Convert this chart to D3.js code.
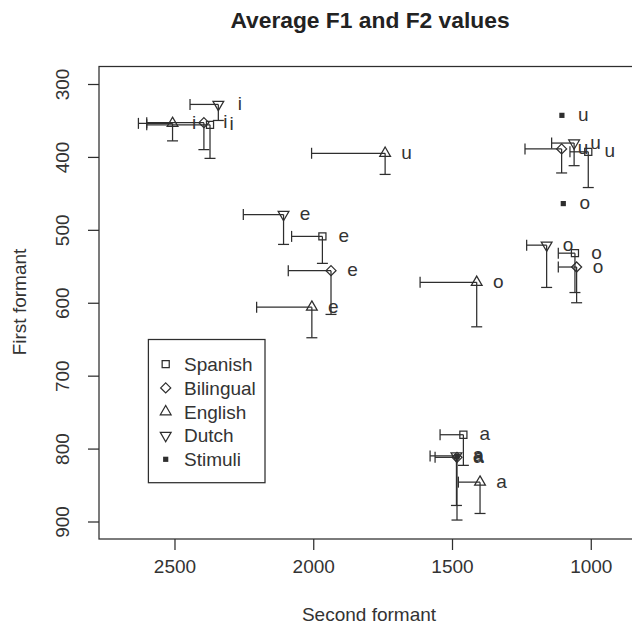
<!DOCTYPE html>
<html>
<head>
<meta charset="utf-8">
<script src="https://cdn.jsdelivr.net/npm/d3@7"></script>
<style>
  html, body { margin: 0; padding: 0; background: #fff; }
  svg { display: block; font-family: "Liberation Sans", Arial, Helvetica, sans-serif; }
</style>
</head>
<body>
<svg id="chart" width="632" height="626"></svg>
<script>
// Vowel order shared by every group
const vowels = ["i", "e", "a", "o", "u"];

// Spanish listeners: mean F2, mean F1, and upper ends of the spread bars (Hz)
const spanishF2   = [2372, 1967, 1459, 1057, 1009];
const spanishF1   = [356, 509, 781, 532, 393];
const spanishF2Hi = [2600, 2078, 1543, 1117, 1075];
const spanishF1Hi = [402, 546, 823, 586, 442];

// Bilingual listeners
const bilingualF2   = [2394, 1936, 1482, 1051, 1105];
const bilingualF1   = [353, 556, 812, 551, 389];
const bilingualF2Hi = [2600, 2090, 1561, 1117, 1237];
const bilingualF1Hi = [390, 616, 898, 600, 422];

// English listeners
const englishF2   = [2507, 2005, 1399, 1411, 1741];
const englishF1   = [354, 606, 846, 572, 395];
const englishF2Hi = [2630, 2204, 1477, 1615, 2006];
const englishF1Hi = [378, 648, 889, 633, 424];

// Dutch listeners
const dutchF2   = [2342, 2107, 1484, 1159, 1060];
const dutchF1   = [328, 479, 810, 521, 381];
const dutchF2Hi = [2444, 2252, 1579, 1231, 1141];
const dutchF1Hi = [350, 520, 878, 579, 412];

// Stimulus vowels
const stimuliVowels = ["a", "o", "u"];
const stimuliF2 = [1482, 1099, 1104];
const stimuliF1 = [811, 464, 343];

// Axis settings
const xLim = [2700, 900];   // reversed: high F2 on the left
const yLim = [900, 300];    // reversed: low F1 at the top
const xTicks = [2500, 2000, 1500, 1000];
const yTicks = [300, 400, 500, 600, 700, 800, 900];

const legendLabels = ["Spanish", "Bilingual", "English", "Dutch", "Stimuli"];
const legendShapes = ["square", "diamond", "triangleUp", "triangleDown", "filled"];

const groups = [
  { name: "Spanish",   shape: "square",       f2: spanishF2,   f1: spanishF1,   f2hi: spanishF2Hi,   f1hi: spanishF1Hi },
  { name: "Bilingual", shape: "diamond",      f2: bilingualF2, f1: bilingualF1, f2hi: bilingualF2Hi, f1hi: bilingualF1Hi },
  { name: "English",   shape: "triangleUp",   f2: englishF2,   f1: englishF1,   f2hi: englishF2Hi,   f1hi: englishF1Hi },
  { name: "Dutch",     shape: "triangleDown", f2: dutchF2,     f1: dutchF1,     f2hi: dutchF2Hi,     f1hi: dutchF1Hi }
];

// ---- layout ----
const plot = { left: 99, top: 66.5, right: 638.5, bottom: 539 };
const ink = "#2e2e2e";
const textInk = "#333";
const lw = 1.25;
const fontSize = 19;

// R-style 4% padding around the limits
function padded(lim) {
  const r = lim[0] - lim[1];
  return [lim[0] + 0.04 * r, lim[1] - 0.04 * r];
}

const x = d3.scaleLinear().domain(padded(xLim)).range([plot.left, plot.right]);
const y = d3.scaleLinear().domain(padded(yLim).reverse()).range([plot.top, plot.bottom]);

const svg = d3.select("#chart");

// symbol radius (R pch geometry)
const R = 4;
function symbolPath(shape, cx, cy) {
  if (shape === "square") {
    const h = R * 0.886;
    return `M${cx - h},${cy - h}H${cx + h}V${cy + h}H${cx - h}Z`;
  }
  if (shape === "diamond") {
    const h = R * 1.2533;
    return `M${cx},${cy - h}L${cx + h},${cy}L${cx},${cy + h}L${cx - h},${cy}Z`;
  }
  if (shape === "triangleUp") {
    const top = R * 1.555, half = R * 1.347, base = R * 0.778;
    return `M${cx},${cy - top}L${cx + half},${cy + base}L${cx - half},${cy + base}Z`;
  }
  if (shape === "triangleDown") {
    const top = R * 1.555, half = R * 1.347, base = R * 0.778;
    return `M${cx},${cy + top}L${cx + half},${cy - base}L${cx - half},${cy - base}Z`;
  }
  // small filled square
  const h = 2.6;
  return `M${cx - h},${cy - h}H${cx + h}V${cy + h}H${cx - h}Z`;
}

function drawSymbol(g, shape, cx, cy) {
  g.append("path")
    .attr("d", symbolPath(shape, cx, cy))
    .attr("fill", shape === "filled" ? ink : "none")
    .attr("stroke", shape === "filled" ? "none" : ink)
    .attr("stroke-width", lw);
}

// ---- title ----
svg.append("text")
  .attr("x", 370).attr("y", 28)
  .attr("text-anchor", "middle")
  .attr("font-size", 22.8).attr("font-weight", "bold")
  .attr("fill", "#222")
  .text("Average F1 and F2 values");

// ---- axes ----
const xAxis = svg.append("g")
  .attr("transform", `translate(0,${plot.bottom})`)
  .call(d3.axisBottom(x).tickValues(xTicks).tickSize(11).tickPadding(10).tickFormat(d3.format("d")));
xAxis.select(".domain").remove();
xAxis.selectAll("line").attr("stroke", ink).attr("stroke-width", lw);
xAxis.selectAll("text").attr("font-size", fontSize).attr("fill", textInk)
  .attr("font-family", "Liberation Sans, Arial, sans-serif");

const yAxis = svg.append("g")
  .attr("transform", `translate(${plot.left},0)`)
  .call(d3.axisLeft(y).tickValues(yTicks).tickSize(11).tickFormat(d3.format("d")));
yAxis.select(".domain").remove();
yAxis.selectAll("line").attr("stroke", ink).attr("stroke-width", lw);
yAxis.selectAll("text")
  .attr("x", null).attr("dy", null)
  .attr("text-anchor", "middle")
  .attr("transform", "translate(-29.7,0) rotate(-90)")
  .attr("font-size", fontSize).attr("fill", textInk)
  .attr("font-family", "Liberation Sans, Arial, sans-serif");

// axis titles
svg.append("text")
  .attr("x", 369).attr("y", 621)
  .attr("text-anchor", "middle")
  .attr("font-size", fontSize).attr("fill", textInk)
  .text("Second formant");
svg.append("text")
  .attr("transform", "translate(26,302) rotate(-90)")
  .attr("text-anchor", "middle")
  .attr("font-size", fontSize).attr("fill", textInk)
  .text("First formant");

// ---- plot box ----
svg.append("rect")
  .attr("x", plot.left).attr("y", plot.top)
  .attr("width", plot.right - plot.left).attr("height", plot.bottom - plot.top)
  .attr("fill", "none").attr("stroke", ink).attr("stroke-width", lw);

// ---- error bars, points and vowel labels ----
const marks = svg.append("g");
const cap = 5.5;
const labelDx = 21.5;
const labelDy = 5.5;

groups.forEach(grp => {
  vowels.forEach((v, k) => {
    const px = x(grp.f2[k]), py = y(grp.f1[k]);
    const hx = x(grp.f2hi[k]), vy = y(grp.f1hi[k]);
    // horizontal bar toward higher F2 with end cap
    marks.append("line").attr("x1", px).attr("y1", py).attr("x2", hx).attr("y2", py)
      .attr("stroke", ink).attr("stroke-width", lw);
    marks.append("line").attr("x1", hx).attr("y1", py - cap).attr("x2", hx).attr("y2", py + cap)
      .attr("stroke", ink).attr("stroke-width", lw);
    // vertical bar toward higher F1 with end cap
    marks.append("line").attr("x1", px).attr("y1", py).attr("x2", px).attr("y2", vy)
      .attr("stroke", ink).attr("stroke-width", lw);
    marks.append("line").attr("x1", px - cap).attr("y1", vy).attr("x2", px + cap).attr("y2", vy)
      .attr("stroke", ink).attr("stroke-width", lw);
  });
});

groups.forEach(grp => {
  vowels.forEach((v, k) => {
    const px = x(grp.f2[k]), py = y(grp.f1[k]);
    drawSymbol(marks, grp.shape, px, py);
    marks.append("text")
      .attr("x", px + labelDx).attr("y", py + labelDy)
      .attr("text-anchor", "middle")
      .attr("font-size", fontSize).attr("fill", textInk)
      .text(v);
  });
});

stimuliVowels.forEach((v, k) => {
  const px = x(stimuliF2[k]), py = y(stimuliF1[k]);
  drawSymbol(marks, "filled", px, py);
  marks.append("text")
    .attr("x", px + labelDx).attr("y", py + labelDy)
    .attr("text-anchor", "middle")
    .attr("font-size", fontSize).attr("fill", textInk)
    .text(v);
});

// ---- legend ----
const legend = svg.append("g");
legend.append("rect")
  .attr("x", 148.4).attr("y", 339.5)
  .attr("width", 116.6).attr("height", 143.2)
  .attr("fill", "#fff").attr("stroke", ink).attr("stroke-width", lw);
legendLabels.forEach((lab, k) => {
  const cy = 364.1 + 23.8 * k;
  drawSymbol(legend, legendShapes[k], 165.7, cy);
  legend.append("text")
    .attr("x", 184).attr("y", cy + 6.8)
    .attr("font-size", fontSize).attr("fill", textInk)
    .text(lab);
});
</script>
</body>
</html>
